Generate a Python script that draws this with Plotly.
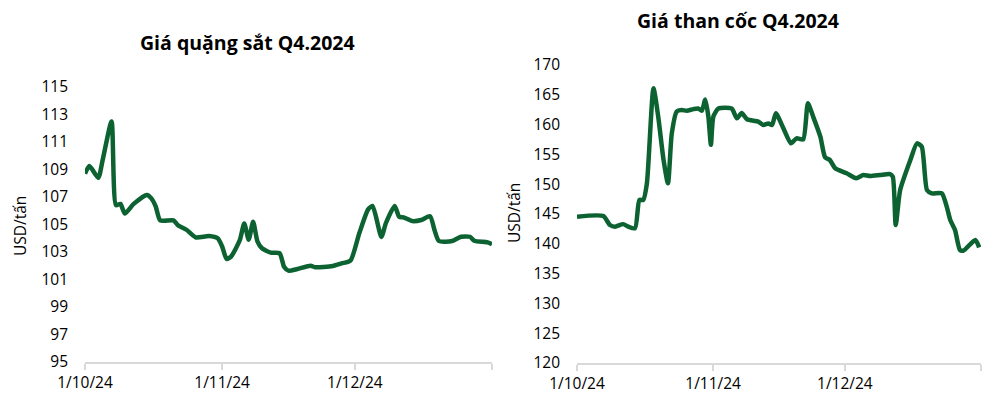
import plotly.graph_objects as go

# ---- Data: iron ore (left) ----
ore_dates = [
    "2024-10-01", "2024-10-02", "2024-10-04", "2024-10-05", "2024-10-07",
    "2024-10-08", "2024-10-09", "2024-10-10", "2024-10-12", "2024-10-15",
    "2024-10-16", "2024-10-17", "2024-10-18", "2024-10-21", "2024-10-22",
    "2024-10-24", "2024-10-26", "2024-10-29", "2024-10-31", "2024-11-01",
    "2024-11-02", "2024-11-03", "2024-11-05", "2024-11-06", "2024-11-07",
    "2024-11-08", "2024-11-09", "2024-11-10", "2024-11-12", "2024-11-14",
    "2024-11-15", "2024-11-16", "2024-11-18", "2024-11-21", "2024-11-22",
    "2024-11-26", "2024-11-28", "2024-11-30", "2024-12-02", "2024-12-04",
    "2024-12-05", "2024-12-07", "2024-12-08", "2024-12-10", "2024-12-11",
    "2024-12-12", "2024-12-14", "2024-12-16", "2024-12-18", "2024-12-19",
    "2024-12-20", "2024-12-23", "2024-12-25", "2024-12-27", "2024-12-28",
    "2024-12-31", "2025-01-01",
]
ore_prices = [
    108.7, 109.25, 108.4, 109.7, 112.5,
    106.4, 106.5, 105.8, 106.5, 107.15,
    106.9, 106.3, 105.3, 105.3, 104.95,
    104.6, 104.07, 104.16, 104.0, 103.4,
    102.5, 102.66, 103.87, 105.08, 103.9,
    105.2, 103.75, 103.27, 102.95, 102.9,
    101.93, 101.64, 101.76, 102.0, 101.89,
    101.98, 102.17, 102.37, 104.36, 106.1,
    106.35, 104.1, 105.09, 106.35, 105.57,
    105.52, 105.25, 105.33, 105.6, 104.6,
    103.8, 103.8, 104.11, 104.11, 103.82,
    103.7, 103.56,
]

# ---- Data: coking coal (right) ----
coal_dates = [
    "2024-10-01 00:00", "2024-10-07 00:00", "2024-10-08 12:00", "2024-10-09 16:00",
    "2024-10-11 12:00", "2024-10-12 16:00", "2024-10-14 05:00", "2024-10-15 05:00",
    "2024-10-16 02:00", "2024-10-16 22:00", "2024-10-18 10:00", "2024-10-19 12:00",
    "2024-10-20 17:00", "2024-10-21 17:00", "2024-10-22 14:00", "2024-10-23 17:00",
    "2024-10-24 19:00", "2024-10-26 00:00", "2024-10-27 12:00", "2024-10-28 14:00",
    "2024-10-29 10:00", "2024-10-30 05:00", "2024-10-30 22:00", "2024-10-31 12:00",
    "2024-11-01 01:00", "2024-11-02 05:00", "2024-11-05 05:00", "2024-11-06 10:00",
    "2024-11-07 12:00", "2024-11-08 17:00", "2024-11-11 07:00", "2024-11-12 10:00",
    "2024-11-13 14:00", "2024-11-14 10:00", "2024-11-15 07:00", "2024-11-17 00:00",
    "2024-11-18 17:00", "2024-11-20 00:00", "2024-11-21 12:00", "2024-11-22 14:00",
    "2024-11-23 19:00", "2024-11-25 10:00", "2024-11-26 12:00", "2024-11-27 14:00",
    "2024-11-28 19:00", "2024-12-01 10:00", "2024-12-03 14:00", "2024-12-05 05:00",
    "2024-12-06 17:00", "2024-12-09 00:00", "2024-12-11 07:00", "2024-12-11 22:00",
    "2024-12-12 14:00", "2024-12-13 14:00", "2024-12-15 22:00", "2024-12-17 10:00",
    "2024-12-18 12:00", "2024-12-19 17:00", "2024-12-20 19:00", "2024-12-23 02:00",
    "2024-12-24 05:00", "2024-12-25 00:00", "2024-12-26 02:00", "2024-12-27 05:00",
    "2024-12-28 00:00", "2024-12-30 17:00", "2024-12-31 14:00",
]
coal_prices = [
    144.55, 144.66, 143.15, 142.87,
    143.3, 142.87, 142.6, 147.35,
    147.35, 150.15, 166.1, 161.3,
    154.06, 150.15, 158.5, 162.2,
    162.45, 162.33, 162.6, 162.7,
    162.33, 164.2, 161.33, 156.6,
    161.33, 162.7, 162.7, 161.05,
    161.95, 160.9, 160.5, 159.93,
    160.2, 159.93, 161.9, 159.4,
    156.86, 157.7, 157.5, 163.57,
    161.3, 157.97, 154.5, 154.06,
    152.67, 151.83, 151.0, 151.54,
    151.37, 151.54, 151.7, 151.26,
    143.15, 149.0, 154.06, 156.86,
    156.3, 149.0, 148.47, 148.47,
    146.2, 144.0, 142.3, 138.96,
    138.85, 140.64, 139.4,
]

month_ticks = ["2024-10-01", "2024-11-01", "2024-12-01", "2025-01-01"]
month_labels = ["1/10/24", "1/11/24", "1/12/24", ""]
ore_yticks = list(range(95, 116, 2))
coal_yticks = list(range(120, 171, 5))

titles = ["Giá quặng sắt Q4.2024", "Giá than cốc Q4.2024"]
unit = "USD/tấn"

LINE = "#0C6331"
FONT = "Open Sans"
W, H = 998, 404

fig = go.Figure()
fig.add_trace(go.Scatter(x=ore_dates, y=ore_prices, mode="lines",
                         line=dict(color=LINE, width=4.5, shape="spline", smoothing=0.6),
                         xaxis="x", yaxis="y", hoverinfo="x+y"))
fig.add_trace(go.Scatter(x=coal_dates, y=coal_prices, mode="lines",
                         line=dict(color=LINE, width=4.5, shape="spline", smoothing=0.6),
                         xaxis="x2", yaxis="y2", hoverinfo="x+y"))

xcommon = dict(type="date", range=["2024-10-01", "2025-01-01"], tickmode="array",
               tickvals=month_ticks, ticktext=month_labels, showgrid=False,
               zeroline=False, showline=True, linecolor="#D9D9D9", linewidth=1.5,
               ticks="outside", ticklen=6, tickcolor="#D9D9D9", tickwidth=1.5,
               tickfont=dict(family=FONT, size=15.5, color="#000"), automargin=False)
ycommon = dict(showgrid=False, zeroline=False, showline=False, ticks="",
               tickfont=dict(family=FONT, size=15.5, color="#000"),
               ticklabelstandoff=16, automargin=False)

fig.update_layout(
    width=W, height=H, margin=dict(l=0, r=0, t=0, b=0, autoexpand=False),
    paper_bgcolor="white", plot_bgcolor="white", showlegend=False,
    xaxis=dict(domain=[85 / W, 492 / W], anchor="y", **xcommon),
    yaxis=dict(domain=[(H - 362) / H, (H - 87) / H], anchor="x", range=[95, 115],
               tickvals=ore_yticks, **ycommon),
    xaxis2=dict(domain=[577 / W, 981 / W], anchor="y2", **xcommon),
    yaxis2=dict(domain=[(H - 363) / H, (H - 65) / H], anchor="x2", range=[120, 170],
                tickvals=coal_yticks, **ycommon),
    annotations=[
        dict(text="<b>" + titles[0] + "</b>", x=247 / W, y=(H - 43) / H, xref="paper",
             yref="paper", showarrow=False, xanchor="center", yanchor="middle",
             font=dict(family=FONT, size=19.5, color="#000")),
        dict(text="<b>" + titles[1] + "</b>", x=738 / W, y=(H - 20) / H, xref="paper",
             yref="paper", showarrow=False, xanchor="center", yanchor="middle",
             font=dict(family=FONT, size=19.5, color="#000")),
        dict(text=unit, x=20 / W, y=(H - 226) / H, xref="paper", yref="paper",
             showarrow=False, textangle=-90, xanchor="center", yanchor="middle",
             font=dict(family=FONT, size=15.5, color="#000")),
        dict(text=unit, x=514 / W, y=(H - 213) / H, xref="paper", yref="paper",
             showarrow=False, textangle=-90, xanchor="center", yanchor="middle",
             font=dict(family=FONT, size=15.5, color="#000")),
    ],
)

fig.write_html("out.html")
